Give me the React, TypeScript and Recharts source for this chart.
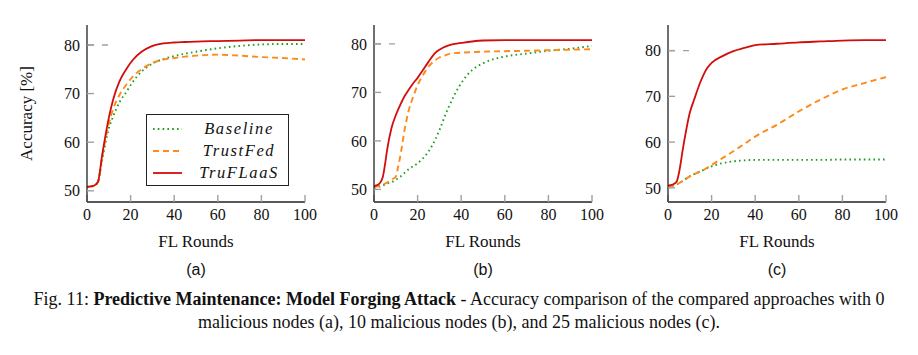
import React from 'react';
import { LineChart, Line, XAxis, YAxis, ReferenceLine, Legend, Label } from 'recharts';

// ---------- data ----------
const roundsA = [0, 3, 5, 7, 10, 12, 15, 18, 21, 25, 29, 35, 40, 45, 50, 60, 70, 80, 90, 100];
const baselineA = [50.8, 51.0, 51.8, 56.5, 62.8, 65.3, 68.3, 70.3, 72.4, 74.5, 75.9, 77.1, 77.7, 78.2, 78.6, 79.3, 79.8, 80.1, 80.2, 80.2];
const trustFedA = [50.8, 51.0, 51.8, 57.0, 63.8, 66.8, 69.8, 71.8, 73.5, 75.0, 76.1, 77.0, 77.3, 77.6, 77.8, 78.0, 77.8, 77.5, 77.3, 77.0];
const truFLaaSA = [50.8, 51.0, 51.8, 57.5, 65.0, 68.8, 72.6, 75.0, 76.9, 78.6, 79.6, 80.3, 80.5, 80.6, 80.7, 80.8, 80.9, 81.0, 81.0, 81.0];

const roundsB = [0, 2, 4, 5, 6, 8, 10, 11, 12, 14, 16, 18, 20, 22, 25, 28, 30, 33, 35, 37, 40, 45, 50, 60, 70, 80, 90, 100];
const baselineB = [50.3, 50.5, 50.8, 51.0, 51.2, 51.5, 52.0, 52.3, 52.6, 53.4, 54.2, 54.8, 55.4, 56.2, 57.8, 60.2, 62.2, 65.7, 67.7, 69.6, 71.9, 74.6, 76.0, 77.4, 78.0, 78.6, 79.0, 79.6];
const trustFedB = [50.5, 50.7, 51.0, 51.2, 51.4, 52.0, 52.6, 54.5, 56.7, 62.2, 66.4, 69.1, 71.5, 73.2, 75.3, 76.6, 77.2, 77.7, 78.0, 78.1, 78.2, 78.3, 78.4, 78.5, 78.6, 78.7, 78.8, 78.9];
const truFLaaSB = [50.7, 51.0, 52.5, 55.0, 58.1, 62.6, 65.3, 66.4, 67.4, 69.2, 70.6, 71.9, 73.0, 74.3, 76.3, 78.1, 78.8, 79.5, 79.8, 80.0, 80.2, 80.5, 80.7, 80.8, 80.8, 80.8, 80.8, 80.8];

const roundsC = [0, 2, 4, 5, 7, 10, 12, 15, 18, 20, 25, 30, 35, 40, 50, 60, 70, 80, 90, 100];
const baselineC = [50.0, 50.4, 50.8, 51.0, 51.6, 52.5, 53.0, 53.6, 54.3, 54.7, 55.4, 55.8, 56.0, 56.1, 56.1, 56.1, 56.1, 56.2, 56.2, 56.2];
const trustFedC = [50.0, 50.4, 50.8, 51.0, 51.6, 52.5, 53.0, 53.6, 54.4, 55.0, 56.5, 58.0, 59.6, 61.2, 63.8, 66.7, 69.3, 71.5, 72.9, 74.2];
const truFLaaSC = [50.5, 50.7, 51.4, 53.2, 59.0, 66.4, 69.3, 73.3, 76.2, 77.3, 78.8, 79.9, 80.6, 81.2, 81.5, 81.8, 82.0, 82.2, 82.3, 82.3];

const xTicks = [0, 20, 40, 60, 80, 100];
const yTicks = [50, 60, 70, 80];
const seriesNames = ['Baseline', 'TrustFed', 'TruFLaaS'];
const subLabels = ['(a)', '(b)', '(c)'];

// ---------- styles ----------
const SERIF = '"Liberation Serif", "Times New Roman", serif';
const SANS = '"Liberation Sans", Arial, sans-serif';
const GREEN = '#1f9e1f';
const ORANGE = '#ff8a1a';
const RED = '#d10d0d';
const FRAME = '#222';
const TICK = '#a0a0a0';

const lineStyles = [
  { key: 'baseline', color: GREEN, dash: '1.6 3.2' },
  { key: 'trustfed', color: ORANGE, dash: '6 4' },
  { key: 'truflaas', color: RED, dash: undefined as string | undefined },
];

function toRows(rounds: number[], b: number[], t: number[], r: number[]) {
  return rounds.map((x, i) => ({ round: x, baseline: b[i], trustfed: t[i], truflaas: r[i] }));
}

const LegendBox = () => (
  <div
    style={{
      width: 143,
      height: 72,
      boxSizing: 'border-box',
      border: '1px solid #222',
      background: '#fff',
      position: 'relative',
    }}
  >
    {lineStyles.map((s, i) => (
      <div key={s.key} style={{ position: 'absolute', left: 0, top: 3 + i * 22, width: 141, height: 22 }}>
        <svg width={40} height={22} style={{ position: 'absolute', left: 5, top: 0 }}>
          <line x1={1} y1={11} x2={30} y2={11} stroke={s.color} strokeWidth={1.8} strokeDasharray={s.dash} />
        </svg>
        <div
          style={{
            position: 'absolute',
            left: 52,
            width: 80,
            top: 0,
            height: 22,
            lineHeight: '22px',
            textAlign: 'center',
            fontFamily: SERIF,
            fontStyle: 'italic',
            fontSize: 16.5,
            letterSpacing: 1.6,
            color: '#111',
          }}
        >
          {seriesNames[i]}
        </div>
      </div>
    ))}
  </div>
);

type PanelProps = {
  plotLeft: number;
  rows: any[];
  yDomain: [number, number];
  yLabel?: boolean;
  legend?: boolean;
  sub: string;
};

const PLOT_W = 218;
const AX_W = 87;
const RIGHT_PAD = 24;

const Panel = ({ plotLeft, rows, yDomain, yLabel, legend, sub }: PanelProps) => {
  const tickFont = { fill: '#111', fontSize: 16, fontFamily: SERIF };
  return (
    <>
      <div style={{ position: 'absolute', left: plotLeft - AX_W, top: 0 }}>
        <LineChart width={AX_W + PLOT_W + RIGHT_PAD} height={252} data={rows} margin={{ top: 25, right: RIGHT_PAD, bottom: 0, left: 0 }}>
          <XAxis
            dataKey="round"
            type="number"
            domain={[0, 100]}
            ticks={xTicks}
            interval={0}
            height={50}
            tickSize={-7}
            tickMargin={14}
            stroke={FRAME}
            axisLine={{ stroke: FRAME, strokeWidth: 1.3 }}
            tickLine={{ stroke: TICK, strokeWidth: 1.4 }}
            tick={tickFont}
          >
            <Label value="FL Rounds" position="insideBottom" offset={5} style={{ fontFamily: SERIF, fontSize: 17, fill: '#111' }} />
          </XAxis>
          <XAxis
            xAxisId="top"
            dataKey="round"
            orientation="top"
            type="number"
            domain={[0, 100]}
            ticks={xTicks}
            interval={0}
            height={0}
            tickSize={-7}
            stroke={FRAME}
            axisLine={{ stroke: FRAME, strokeWidth: 1.3 }}
            tickLine={{ stroke: TICK, strokeWidth: 1.4 }}
            tick={false}
          />
          <YAxis
            type="number"
            domain={yDomain}
            ticks={yTicks}
            interval={0}
            width={AX_W}
            tickSize={-7}
            tickMargin={14}
            stroke={FRAME}
            axisLine={{ stroke: FRAME, strokeWidth: 1.3 }}
            tickLine={{ stroke: TICK, strokeWidth: 1.4 }}
            tick={tickFont}
            allowDataOverflow
          >
            {yLabel ? (
              <Label
                value="Accuracy [%]"
                angle={-90}
                position="insideLeft"
                offset={26}
                style={{ textAnchor: 'middle', fontFamily: SERIF, fontSize: 17, fill: '#111' }}
              />
            ) : null}
          </YAxis>
          <YAxis
            yAxisId="right"
            orientation="right"
            type="number"
            domain={yDomain}
            ticks={yTicks}
            interval={0}
            width={0}
            tickSize={-7}
            stroke={FRAME}
            axisLine={{ stroke: FRAME, strokeWidth: 1.3 }}
            tickLine={{ stroke: TICK, strokeWidth: 1.4 }}
            tick={false}
            allowDataOverflow
          />
          <ReferenceLine
            segment={[{ x: 0, y: 80 }, { x: 10, y: 80 }]}
            stroke={TICK}
            strokeWidth={1.4}
            strokeDasharray="7 8 6 100"
            ifOverflow="visible"
          />
          {lineStyles.map((s) => (
            <Line
              key={s.key}
              type="monotone"
              dataKey={s.key}
              stroke={s.color}
              strokeWidth={s.key === 'truflaas' ? 1.8 : 1.9}
              strokeDasharray={s.dash}
              dot={false}
              activeDot={false}
              isAnimationActive={false}
            />
          ))}
          {legend ? (
            <Legend
              layout="vertical"
              align="center"
              verticalAlign="middle"
              wrapperStyle={{ left: 146, top: 114, width: 143, height: 72 }}
              content={() => <LegendBox />}
            />
          ) : null}
        </LineChart>
      </div>
      <div
        style={{
          position: 'absolute',
          left: plotLeft,
          width: PLOT_W,
          top: 260,
          height: 20,
          lineHeight: '20px',
          textAlign: 'center',
          fontFamily: SANS,
          fontSize: 16,
          color: '#111',
        }}
      >
        {sub}
      </div>
    </>
  );
};

export default function App() {
  const rowsA = toRows(roundsA, baselineA, trustFedA, truFLaaSA);
  const rowsB = toRows(roundsB, baselineB, trustFedB, truFLaaSB);
  const rowsC = toRows(roundsC, baselineC, trustFedC, truFLaaSC);
  return (
    <div style={{ position: 'absolute', left: 0, top: 0, width: 918, height: 355, background: '#fff', overflow: 'hidden' }}>
      <Panel plotLeft={87} rows={rowsA} yDomain={[47.7, 84.1]} yLabel legend sub={subLabels[0]} />
      <Panel plotLeft={374} rows={rowsB} yDomain={[47.4, 83.9]} sub={subLabels[1]} />
      <Panel plotLeft={668} rows={rowsC} yDomain={[46.9, 85.6]} sub={subLabels[2]} />
      <div
        style={{
          position: 'absolute',
          left: 0,
          top: 288,
          width: 918,
          textAlign: 'center',
          fontFamily: SERIF,
          fontSize: 18,
          lineHeight: '23px',
          color: '#111',
          whiteSpace: 'nowrap',
        }}
      >
        <div>
          Fig. 11: <b>Predictive Maintenance: Model Forging Attack</b> - Accuracy comparison of the compared approaches with 0
        </div>
        <div>malicious nodes (a), 10 malicious nodes (b), and 25 malicious nodes (c).</div>
      </div>
    </div>
  );
}
